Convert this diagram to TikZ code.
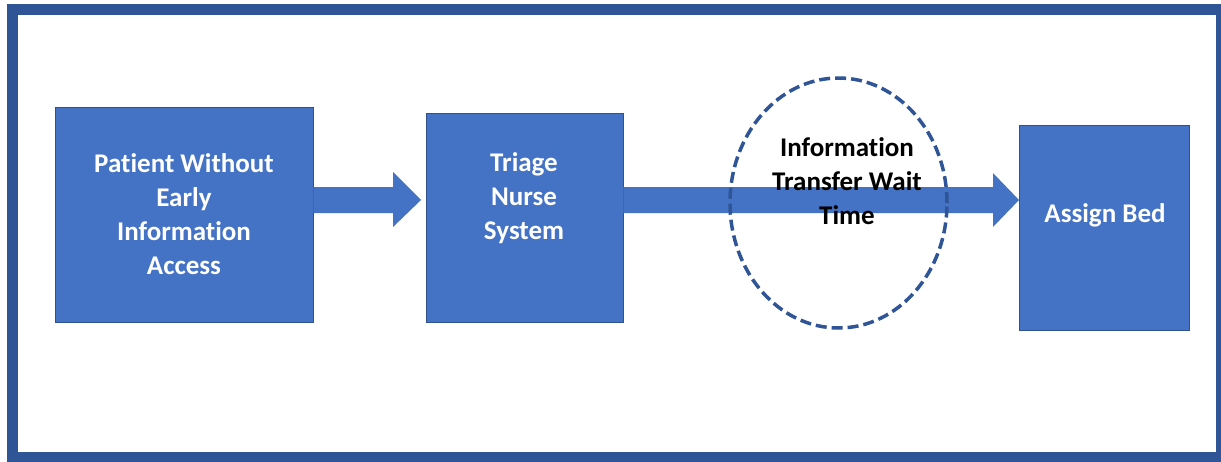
\documentclass[tikz,border=0pt]{standalone}
\usepackage{fontspec}
\setmainfont{Carlito}[Ligatures={NoCommon}]
\usetikzlibrary{shapes.geometric}
\definecolor{boxblue}{HTML}{4472C4}
\definecolor{edgeblue}{HTML}{2F528F}
\definecolor{frameblue}{HTML}{2F5597}
\tikzset{
  stepbox/.style={fill=boxblue, draw=edgeblue, line width=0.8pt, inner sep=0pt},
  boxtext/.style={text=white, font=\fontsize{27}{34}\selectfont\bfseries, align=center, inner sep=0pt},
  waittext/.style={text=black, font=\fontsize{27}{34}\selectfont\bfseries, align=center, inner sep=0pt},
  arrowfill/.style={fill=boxblue, draw=none},
  waitring/.style={draw=frameblue, dash pattern=on 11pt off 5pt, line width=3.5pt, ellipse, inner sep=0pt}
}
\begin{document}
\begin{tikzpicture}[x=1pt,y=-1pt]
\useasboundingbox (0,0) rectangle (1221,461);
\fill[white] (0,0) rectangle (1221,461);
\draw[frameblue, line width=11pt] (12.5,9.5) rectangle (1221.5,457.5);
% boxes
\node[stepbox, minimum width=258pt, minimum height=215pt] (p) at (184,214.5) {};
\node[stepbox, minimum width=197pt, minimum height=209pt] (t) at (524.5,217.5) {};
\node[stepbox, minimum width=170pt, minimum height=205pt] (b) at (1104,227.5) {};
% arrows
\path[arrowfill] (p.east |- 0,187) -- (393,187) -- (393,172) -- (421,200) -- (393,227) -- (393,213) -- (p.east |- 0,213) -- cycle;
\path[arrowfill] (t.east |- 0,187) -- (993,187) -- (993,173) -- (1019,200) -- (993,227) -- (993,213) -- (t.east |- 0,213) -- cycle;
% wait ellipse
\node[waitring, minimum width=217pt, minimum height=250pt] (e) at (838.5,203) {};
% texts
\node[boxtext] (pt) at (184,214) {Patient Without\\Early\\Information\\Access};
\node[boxtext] (tt) at (524,198) {Triage\\Nurse\\System};
\node[boxtext] (bt) at (1105,215) {Assign Bed};
\node[waittext] (et) at (847,181) {Information\\Transfer Wait\\Time};
\end{tikzpicture}
\end{document}
